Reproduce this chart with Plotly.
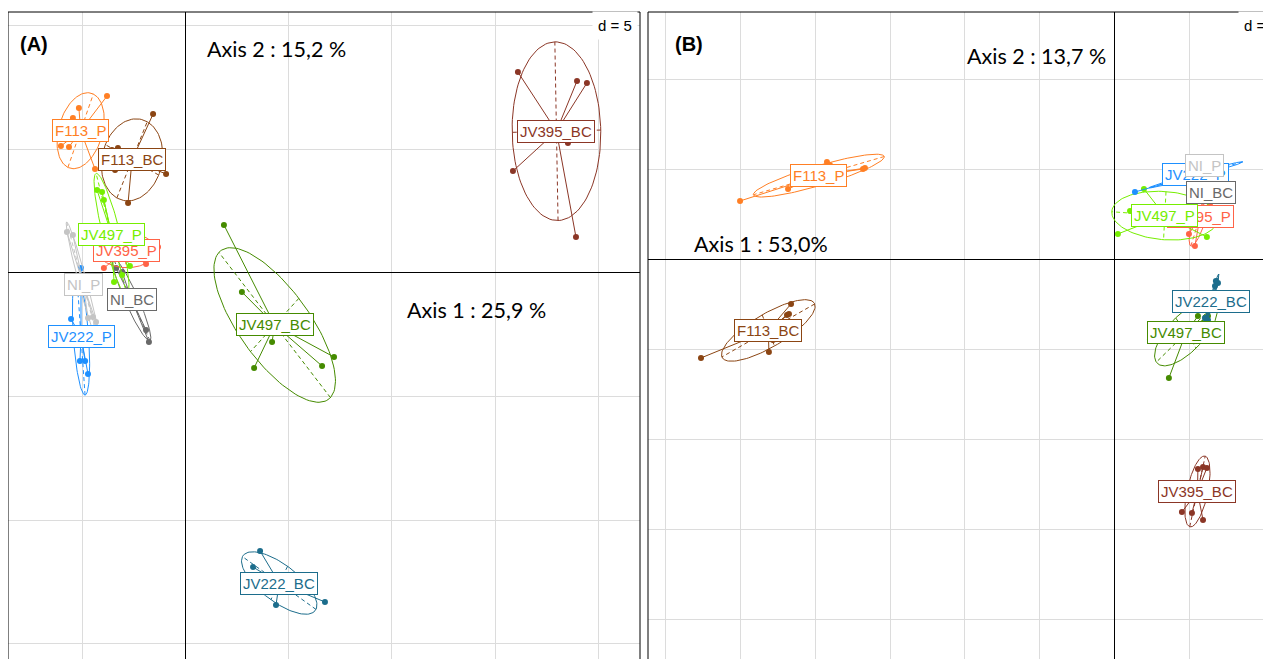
import numpy as np
import plotly.graph_objects as go

# ---------------- Panel A (axis 1 = 25.9 %, axis 2 = 15.2 %) ----------------
a_f113_p_x = [-3.79, -5.15, -5.44, -6.02, -5.63, -4.37]
a_f113_p_y = [7.14, 6.66, 6.25, 5.12, 5.08, 4.19]
a_f113_bc_x = [-1.56, -0.93, -2.77, -3.55, -3.26, -3.40]
a_f113_bc_y = [6.41, 3.99, 2.82, 4.96, 5.04, 4.15]
a_jv497_p_x = [-4.27, -4.03, -3.94, -2.68, -3.45, -3.06]
a_jv497_p_y = [3.34, 3.26, 2.94, 0.27, -0.38, -0.09]
a_jv395_p_x = [-3.94, -1.90, -1.32, -3.64, -3.16, -3.26]
a_jv395_p_y = [0.19, 0.35, 1.04, 1.16, 1.32, 1.44]
a_ni_p_x = [-5.73, -5.44, -4.71, -4.47, -4.32]
a_ni_p_y = [1.65, 1.52, -1.83, -1.79, -1.99]
a_jv222_p_x = [-5.05, -5.53, -5.10, -4.85, -4.71]
a_jv222_p_y = [0.19, -1.87, -3.57, -3.57, -4.09]
a_ni_bc_x = [-3.35, -3.06, -2.39, -3.16, -1.90, -1.76]
a_ni_bc_y = [0.19, 0.03, -0.78, -0.78, -2.32, -2.80]
a_jv497_bc_x = [1.87, 2.74, 4.20, 3.33, 6.62, 7.20]
a_jv497_bc_y = [1.93, -0.78, -2.80, -3.85, -3.77, -3.41]
a_jv395_bc_x = [16.10, 18.96, 19.44, 18.52, 15.86, 18.91]
a_jv395_bc_y = [8.11, 7.75, 7.67, 5.24, 4.11, 1.44]
a_jv222_bc_x = [3.62, 3.28, 4.39, 6.76, 4.68]
a_jv222_bc_y = [-11.25, -11.90, -13.43, -13.31, -12.83]

# ---------------- Panel B (axis 1 = 53.0 %, axis 2 = 13.7 %) ----------------
b_f113_p_x = [-25.03, -21.82, -19.22, -16.81, -16.68, -19.02]
b_f113_p_y = [3.24, 3.91, 5.41, 5.02, 5.07, 5.24]
b_f113_bc_x = [-27.64, -23.10, -21.62, -21.89, -21.76, -22.83]
b_f113_bc_y = [-5.48, -5.15, -2.48, -3.09, -3.04, -4.48]
b_jv222_p_x = [1.37, 5.72, 6.38, 6.72, 7.05]
b_jv222_p_y = [3.74, 4.85, 4.96, 4.85, 5.07]
b_ni_p_x = [5.58, 6.38, 6.65, 5.72, 5.92]
b_ni_p_y = [5.52, 5.63, 4.96, 4.85, 4.96]
b_ni_bc_x = [5.98, 6.78, 6.99, 6.12, 6.38]
b_ni_bc_y = [3.96, 3.85, 3.41, 3.52, 3.68]
b_jv497_p_x = [1.97, 1.04, 0.23, 6.18, 5.05, 5.72]
b_jv497_p_y = [3.91, 2.68, 1.41, 1.24, 2.46, 2.85]
b_jv395_p_x = [4.98, 5.38, 5.98, 6.38, 5.92]
b_jv395_p_y = [1.41, 0.74, 3.29, 3.02, 3.52]
b_jv222_bc_x = [6.78, 6.92, 6.72, 6.05, 6.25, 6.12]
b_jv222_bc_y = [-1.21, -1.32, -1.48, -3.26, -3.37, -3.48]
b_jv497_bc_x = [3.64, 6.12, 6.25, 2.37, 4.71, 5.58]
b_jv497_bc_y = [-6.59, -3.26, -3.15, -4.48, -3.93, -3.15]
b_jv395_bc_x = [5.92, 6.18, 5.58, 4.51, 5.18, 5.92]
b_jv395_bc_y = [-11.54, -11.59, -11.65, -14.04, -14.09, -14.48]

group_colors = {
    "F113_P": "#FF7F24",
    "F113_BC": "#8B4513",
    "JV497_P": "#76EE00",
    "JV395_P": "#FF6347",
    "NI_P": "#C4C4C4",
    "NI_BC": "#696969",
    "JV222_P": "#1E90FF",
    "JV497_BC": "#458B00",
    "JV395_BC": "#8B3626",
    "JV222_BC": "#1C6D8C",
}

panel_a = [
    ("F113_P", a_f113_p_x, a_f113_p_y),
    ("F113_BC", a_f113_bc_x, a_f113_bc_y),
    ("JV497_BC", a_jv497_bc_x, a_jv497_bc_y),
    ("JV395_BC", a_jv395_bc_x, a_jv395_bc_y),
    ("JV222_BC", a_jv222_bc_x, a_jv222_bc_y),
    ("JV222_P", a_jv222_p_x, a_jv222_p_y),
    ("NI_P", a_ni_p_x, a_ni_p_y),
    ("NI_BC", a_ni_bc_x, a_ni_bc_y),
    ("JV395_P", a_jv395_p_x, a_jv395_p_y),
    ("JV497_P", a_jv497_p_x, a_jv497_p_y),
]
panel_b = [
    ("F113_P", b_f113_p_x, b_f113_p_y),
    ("F113_BC", b_f113_bc_x, b_f113_bc_y),
    ("JV395_BC", b_jv395_bc_x, b_jv395_bc_y),
    ("JV497_BC", b_jv497_bc_x, b_jv497_bc_y),
    ("JV222_BC", b_jv222_bc_x, b_jv222_bc_y),
    ("JV395_P", b_jv395_p_x, b_jv395_p_y),
    ("JV497_P", b_jv497_p_x, b_jv497_p_y),
    ("JV222_P", b_jv222_p_x, b_jv222_p_y),
    ("NI_BC", b_ni_bc_x, b_ni_bc_y),
    ("NI_P", b_ni_p_x, b_ni_p_y),
]

CELL = 1.5  # ade4 s.class cellipse

fig = go.Figure()
annotations = []


def add_group(name, xs, ys, xa, ya):
    col = group_colors[name]
    x = np.array(xs, float)
    y = np.array(ys, float)
    mx, my = x.mean(), y.mean()
    cov = np.cov(np.vstack([x, y]), bias=True)
    vals, vecs = np.linalg.eigh(cov)
    vals = np.clip(vals, 0, None)
    r_min, r_max = CELL * np.sqrt(vals)
    e_min, e_max = vecs[:, 0], vecs[:, 1]
    t = np.linspace(0, 2 * np.pi, 120)
    ex = mx + r_max * np.cos(t) * e_max[0] + r_min * np.sin(t) * e_min[0]
    ey = my + r_max * np.cos(t) * e_max[1] + r_min * np.sin(t) * e_min[1]
    common = dict(xaxis=xa, yaxis=ya, showlegend=False, hoverinfo="skip")
    fig.add_trace(go.Scatter(x=ex, y=ey, mode="lines",
                             line=dict(color=col, width=1), **common))
    ax_x = [mx - r_max * e_max[0], mx + r_max * e_max[0], None,
            mx - r_min * e_min[0], mx + r_min * e_min[0]]
    ax_y = [my - r_max * e_max[1], my + r_max * e_max[1], None,
            my - r_min * e_min[1], my + r_min * e_min[1]]
    fig.add_trace(go.Scatter(x=ax_x, y=ax_y, mode="lines",
                             line=dict(color=col, width=1, dash="4px,3px"), **common))
    sx, sy = [], []
    for xi, yi in zip(x, y):
        sx += [mx, xi, None]
        sy += [my, yi, None]
    fig.add_trace(go.Scatter(x=sx, y=sy, mode="lines",
                             line=dict(color=col, width=1), **common))
    fig.add_trace(go.Scatter(x=x, y=y, mode="markers",
                             marker=dict(color=col, size=6, symbol="circle"), **common))
    annotations.append(dict(
        x=mx, y=my, xref=xa, yref=ya, text=name, showarrow=False,
        font=dict(family="Liberation Sans, Arial", size=15, color=col),
        bgcolor="white", bordercolor=col, borderwidth=1, borderpad=2,
    ))


for name, xs, ys in panel_a:
    add_group(name, xs, ys, "x", "y")
for name, xs, ys in panel_b:
    add_group(name, xs, ys, "x2", "y2")

W, H = 1271, 659
OFF = 8  # default page body margin


def px(v):
    return (v - OFF) / W


def py(v):
    return 1 - (v - OFF) / H


grid = dict(showgrid=True, gridcolor="#DCDCDC", gridwidth=1, dtick=5, tick0=0,
            zeroline=True, zerolinecolor="black", zerolinewidth=1,
            showticklabels=False, ticks="", showline=False, fixedrange=True)

fig.update_layout(
    width=W, height=H,
    margin=dict(l=0, r=0, t=0, b=0),
    paper_bgcolor="white", plot_bgcolor="white",
    xaxis=dict(domain=[px(8), px(640)], range=[-8.582, 22.009], anchor="y", **grid),
    yaxis=dict(domain=[py(659), py(12)], range=[-15.615, 10.538], anchor="x", **grid),
    xaxis2=dict(domain=[px(648), 1], range=[-31.183, 11.0], anchor="y2", **grid),
    yaxis2=dict(domain=[py(659), py(12)], range=[-22.206, 13.739], anchor="x2", **grid),
    showlegend=False,
)

line = dict(color="black", width=1)
shapes = [
    dict(type="line", xref="paper", yref="paper", x0=px(8), x1=px(8), y0=0, y1=py(12), line=line),
    dict(type="line", xref="paper", yref="paper", x0=px(8), x1=px(640), y0=py(12), y1=py(12), line=line),
    dict(type="line", xref="paper", yref="paper", x0=px(640), x1=px(640), y0=0, y1=py(12), line=line),
    dict(type="line", xref="paper", yref="paper", x0=px(648), x1=px(648), y0=0, y1=py(12), line=line),
    dict(type="line", xref="paper", yref="paper", x0=px(648), x1=1, y0=py(12), y1=py(12), line=line),
]

title_font = dict(family="Lato, Open Sans, sans-serif", size=21.5, color="black")


def txt(t, x, y, font, xanchor="left", **kw):
    return dict(text=t, x=px(x), y=py(y), xref="paper", yref="paper", showarrow=False,
                xanchor=xanchor, yanchor="middle", font=font, **kw)


annotations += [
    txt("<b>(A)</b>", 18, 44, dict(family="Liberation Sans, Arial", size=20, color="black")),
    txt("<b>(B)</b>", 673, 44, dict(family="Liberation Sans, Arial", size=20, color="black")),
    txt("Axis 2 : 15,2 %", 205, 49, title_font),
    txt("Axis 1 : 25,9 %", 405, 310, title_font),
    txt("Axis 2 : 13,7 %", 965, 56, title_font),
    txt("Axis 1 : 53,0%", 692, 244, title_font),
    txt("d = 5", 638, 26, dict(family="Liberation Sans, Arial", size=15, color="black"),
        xanchor="right", bgcolor="white", borderpad=5),
    txt("d = 5", 1238, 26, dict(family="Liberation Sans, Arial", size=15, color="black"),
        bgcolor="white", borderpad=5),
]

fig.update_layout(shapes=shapes, annotations=annotations)
fig.write_html("out.html")
